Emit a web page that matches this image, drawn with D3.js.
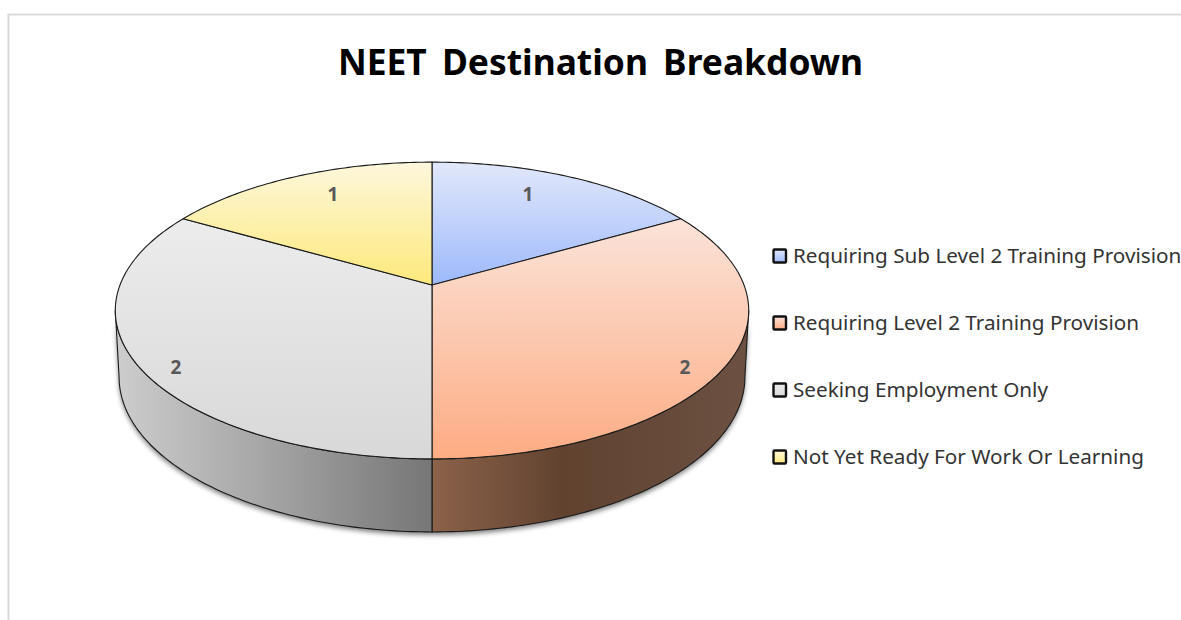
<!DOCTYPE html>
<html>
<head>
<meta charset="utf-8">
<style>
  html, body { margin: 0; padding: 0; background: #fff; overflow: hidden; }
  text { font-family: "Noto Sans", "Open Sans", sans-serif; }
</style>
<script src="https://cdnjs.cloudflare.com/ajax/libs/d3/7.8.5/d3.min.js"></script>
</head>
<body>
<div class="content"></div>
<script>
var categories = ['Requiring Sub Level 2 Training Provision', 'Requiring Level 2 Training Provision', 'Seeking Employment Only', 'Not Yet Ready For Work Or Learning'];
var values = [1, 2, 2, 1];
var topLight = ['#e2e8fb', '#fbe3d9', '#ececec', '#fdf7dc'];
var topDark = ['#9db9fb', '#fdac83', '#d8d8d8', '#fde97c'];
var wallStops = [[], ['#8c624a', '#60422f', '#6c5142'], ['#cdcdcd', '#a3a3a3', '#767676'], []];

var width = 1181, height = 620;

// the top of the pie is a circle seen in perspective, so the centre sits above the middle
var cx = 432, cy = 285, radiusX = 312, radiusY = 144, tilt = 0.172;
// bottom rim is a little narrower and rounder than the top one
var rimMidY = 310.5, bottomMidY = 377, bottomScaleX = 0.988, bottomScaleY = 1.044;

function topPoint(a) {
  var w = 1 + tilt * Math.cos(a);
  return [cx + radiusX * Math.sin(a) / w, cy - radiusY * Math.cos(a) / w];
}
function bottomPoint(a) {
  var p = topPoint(a);
  return [cx + (p[0] - cx) * bottomScaleX, bottomMidY + (p[1] - rimMidY) * bottomScaleY];
}
function rim(a0, a1, fn) {
  var n = Math.max(2, Math.ceil((a1 - a0) * 60));
  return d3.range(n + 1).map(function (i) { return fn(a0 + (a1 - a0) * i / n); });
}

var line = d3.line();
var pie = d3.pie().sort(null).value(function (d) { return d; });
var slices = pie(values);

var svg = d3.select('.content').append('svg')
  .attr('width', width)
  .attr('height', height)
  .style('display', 'block');

var defs = svg.append('defs');
defs.append('filter').attr('id', 'blur')
  .attr('x', '-5%').attr('y', '-5%').attr('width', '110%').attr('height', '110%')
  .append('feGaussianBlur').attr('stdDeviation', 2.5);

values.forEach(function (d, i) {
  var g = defs.append('linearGradient').attr('id', 'top' + i)
    .attr('x1', '0%').attr('y1', '0%').attr('x2', '0%').attr('y2', '100%');
  g.append('stop').attr('offset', '0%').style('stop-color', topLight[i]);
  g.append('stop').attr('offset', '100%').style('stop-color', topDark[i]);
  if (wallStops[i].length) {
    var w = defs.append('linearGradient').attr('id', 'wall' + i)
      .attr('x1', '0%').attr('y1', '0%').attr('x2', '100%').attr('y2', '0%');
    var stops = i === 1 ? [0, 0.42, 1] : [0, 0.5, 1];
    wallStops[i].forEach(function (c, j) {
      w.append('stop').attr('offset', stops[j]).style('stop-color', c);
    });
  }
});

// frame
svg.append('path')
  .attr('d', 'M8.5,620V14.5H' + width)
  .attr('fill', 'none')
  .attr('stroke', '#d9d9d9')
  .attr('stroke-width', 2);

// title
svg.append('text')
  .attr('x', 600.5)
  .attr('y', 75)
  .attr('text-anchor', 'middle')
  .attr('font-size', 35.4)
  .attr('font-weight', 700)
  .attr('word-spacing', 6)
  .attr('fill', '#000')
  .text('NEET Destination Breakdown');

// soft shadow under the drum
var edge = Math.acos(-tilt);
svg.append('path')
  .attr('d', line(rim(edge, 2 * Math.PI - edge, bottomPoint)
    .concat(rim(edge, 2 * Math.PI - edge, topPoint).reverse())) + 'Z')
  .attr('transform', 'translate(0,3)')
  .attr('fill', '#000')
  .attr('opacity', 0.5)
  .attr('filter', 'url(#blur)');

// side walls, only the part of each slice that faces us
svg.selectAll('.wall')
  .data(slices.filter(function (d) { return d.endAngle > edge && d.startAngle < 2 * Math.PI - edge; }))
  .enter().append('path')
  .attr('class', 'wall')
  .attr('d', function (d) {
    var a0 = Math.max(d.startAngle, edge), a1 = Math.min(d.endAngle, 2 * Math.PI - edge);
    return line(rim(a0, a1, topPoint).concat(rim(a0, a1, bottomPoint).reverse())) + 'Z';
  })
  .attr('fill', function (d) { return 'url(#wall' + d.index + ')'; })
  .attr('stroke', '#1a1a1a')
  .attr('stroke-width', 1.1);

// top faces
svg.selectAll('.slice')
  .data(slices)
  .enter().append('path')
  .attr('class', 'slice')
  .attr('d', function (d) {
    return line([[cx, cy]].concat(rim(d.startAngle, d.endAngle, topPoint))) + 'Z';
  })
  .attr('fill', function (d) { return 'url(#top' + d.index + ')'; })
  .attr('stroke', '#1a1a1a')
  .attr('stroke-width', 1.1)
  .attr('stroke-linejoin', 'round');

// data labels
var labelX = d3.scaleLinear().domain([1, 2]).range([0.707, 0.856]);
var labelY = d3.scaleLinear().domain([1, 2]).range([0.838, 1.04]);
svg.selectAll('.value')
  .data(slices)
  .enter().append('text')
  .attr('class', 'value')
  .attr('x', function (d) {
    var p = topPoint((d.startAngle + d.endAngle) / 2);
    return cx + (p[0] - cx) * labelX(d.value) - (p[0] < cx ? 3 : 0);
  })
  .attr('y', function (d) {
    var p = topPoint((d.startAngle + d.endAngle) / 2);
    return cy + (p[1] - cy) * labelY(d.value) + 7;
  })
  .attr('text-anchor', 'middle')
  .attr('font-size', 19)
  .attr('font-weight', 700)
  .attr('fill', '#595959')
  .text(function (d) { return d.value; });

// legend
var legendY = d3.scalePoint().domain(categories).range([256, 457]);
var legend = svg.selectAll('.legend')
  .data(categories)
  .enter().append('g')
  .attr('class', 'legend')
  .attr('transform', function (d) { return 'translate(773,' + legendY(d) + ')'; });

legend.append('rect')
  .attr('x', 0.5)
  .attr('y', -6.5)
  .attr('width', 12.5)
  .attr('height', 13)
  .attr('rx', 1)
  .attr('fill', function (d, i) { return 'url(#top' + i + ')'; })
  .attr('stroke', '#111')
  .attr('stroke-width', 2.4);

legend.append('text')
  .attr('x', 20)
  .attr('y', 7)
  .attr('font-size', 20.7)
  .attr('fill', '#333')
  .text(function (d) { return d; });
</script>
</body>
</html>
